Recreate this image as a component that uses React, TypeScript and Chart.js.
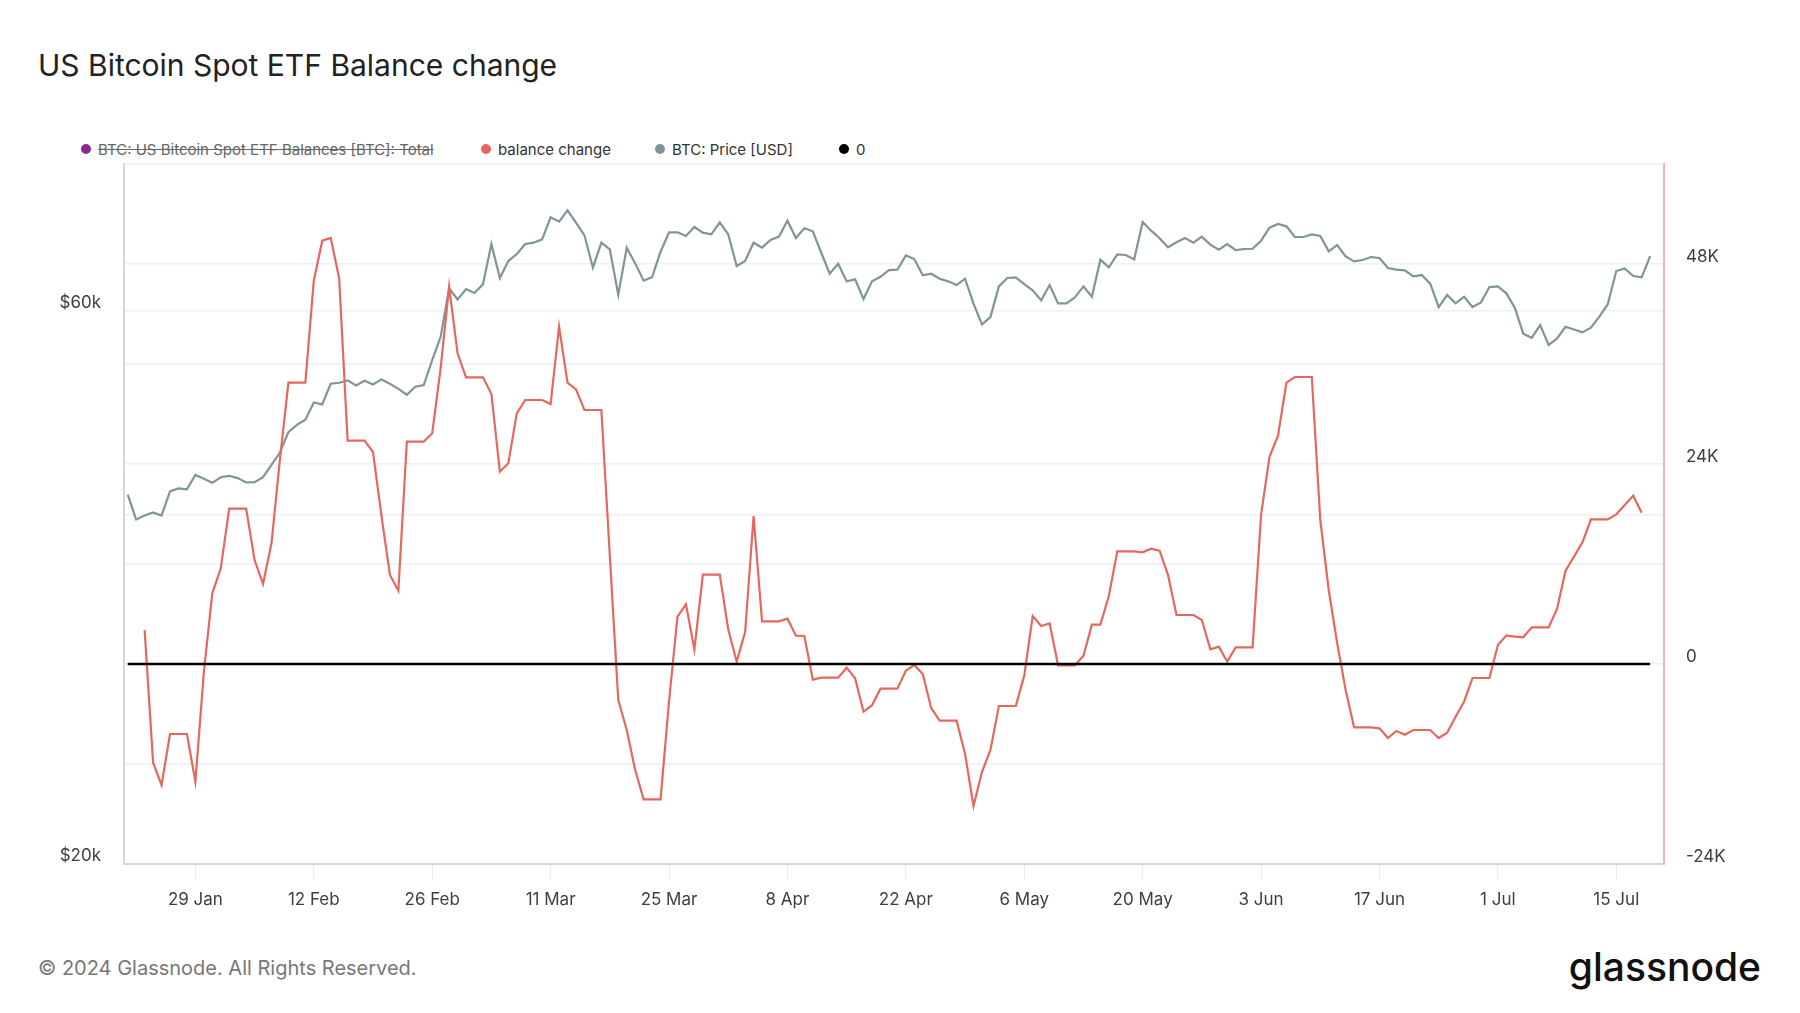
import React, { useEffect, useRef } from 'react';
import { Chart, registerables } from 'chart.js';

Chart.register(...registerables);

// ---------------- data ----------------
const TITLE = 'US Bitcoin Spot ETF Balance change';

// BTC price (USD), daily, starting 2024-01-21
const PRICE_START = '2024-01-21';
const PRICE_USD = [
  41670, 39650, 39970, 40210, 39970, 41930, 42180, 42100, 43330, 42990,
  42650, 43130, 43250, 43050, 42680, 42710, 43130, 44200, 45300, 47170,
  47860, 48340, 50040, 49840, 51930, 52030, 52280, 51760, 52240, 51860,
  52380, 51930, 51410, 50810, 51620, 51790, 54430, 57010, 62760, 61410,
  62680, 62190, 63270, 68550, 64070, 66270, 67200, 68550, 68730, 69190,
  72280, 71660, 73290, 71520, 69740, 65400, 68730, 67830, 61980, 68050,
  65960, 63730, 64190, 67510, 70160, 70160, 69650, 70910, 70110, 69880,
  71570, 69880, 65610, 66270, 68730, 68050, 69090, 69560, 71800, 69370,
  70720, 70300, 67370, 64620, 65920, 63650, 63900, 61450, 63650, 64230,
  65090, 65140, 67020, 66540, 64410, 64620, 63980, 63650, 63180, 63980,
  60880, 58430, 59290, 63010, 64070, 64150, 63300, 62520, 61290, 63180,
  60920, 60920, 61660, 63010, 61730, 66450, 65440, 67160, 67070, 66490,
  71610, 70390, 69330, 68100, 68780, 69370, 68730, 69560, 68460, 67780,
  68550, 67730, 67870, 67910, 69000, 70810, 71330, 71000, 69510, 69510,
  69880, 69650, 67560, 68410, 66890, 66220, 66400, 66800, 66660, 65360,
  65140, 65060, 64280, 64450, 63350, 60480, 61940, 60920, 61730, 60480,
  61040, 62930, 63010, 62150, 60400, 57360, 56900, 58350, 56080, 56830,
  58160, 57850, 57510, 58040, 59330, 60840, 64970, 65310, 64330, 64150,
  66930,
];

// Balance change (thousand BTC), daily, starting 2024-01-23
const BALANCE_START = '2024-01-23';
const BALANCE_CHANGE_K = [
  4.08, -11.84, -14.52, -8.4, -8.4, -8.4, -14.12, -1.0, 8.48, 11.48,
  18.64, 18.64, 18.64, 12.48, 9.6, 14.48, 24.6, 33.76, 33.76, 33.76,
  46.0, 50.8, 51.12, 46.28, 26.8, 26.8, 26.8, 25.44, 17.8, 10.68,
  8.8, 26.68, 26.68, 26.68, 27.68, 35.5, 45.28, 37.28, 34.4, 34.4,
  34.4, 32.4, 23.08, 24.08, 30.08, 31.68, 31.68, 31.68, 31.2, 40.48,
  33.76, 32.96, 30.48, 30.48, 30.48, 13.0, -4.32, -7.92, -12.72, -16.24,
  -16.24, -16.24, -4.5, 5.68, 7.16, 1.76, 10.72, 10.72, 10.72, 4.16,
  0.28, 3.84, 17.76, 5.12, 5.12, 5.12, 5.44, 3.4, 3.36, -1.88,
  -1.64, -1.64, -1.64, -0.44, -1.72, -5.72, -4.96, -2.96, -2.96, -2.96,
  -0.8, -0.12, -1.2, -5.28, -6.8, -6.8, -6.8, -10.76, -17.04, -12.96,
  -10.32, -5.04, -5.04, -5.04, -1.4, 5.76, 4.56, 4.88, -0.16, -0.16,
  -0.16, 1.0, 4.72, 4.72, 8.16, 13.52, 13.52, 13.52, 13.4, 13.84,
  13.6, 10.68, 5.88, 5.88, 5.88, 5.28, 1.76, 2.08, 0.28, 2.0,
  2.0, 2.0, 17.9, 24.88, 27.36, 33.76, 34.44, 34.44, 34.44, 17.28,
  8.88, 2.48, -3.12, -7.6, -7.6, -7.6, -7.72, -8.88, -8.04, -8.48,
  -7.92, -7.92, -7.92, -8.88, -8.24, -6.32, -4.52, -1.68, -1.68, -1.68,
  2.28, 3.44, 3.28, 3.2, 4.4, 4.4, 4.4, 6.64, 11.2, 12.88,
  14.6, 17.36, 17.36, 17.36, 17.96, 19.08, 20.2, 18.16,
];

// Zero reference line spans the price dates
const ZERO_VALUE = 0;

const X_TICK_DATES = [
  '2024-01-29', '2024-02-12', '2024-02-26', '2024-03-11', '2024-03-25',
  '2024-04-08', '2024-04-22', '2024-05-06', '2024-05-20', '2024-06-03',
  '2024-06-17', '2024-07-01', '2024-07-15',
];
const X_MIN_DATE = '2024-01-20T13:27:00Z';
const X_MAX_DATE = '2024-07-20T15:22:00Z';

const LEFT_TICKS = [20000, 40000, 60000];
const LEFT_LABELS: Record<number, string> = { 20000: '$20k', 60000: '$60k' };
const LEFT_MIN = 20000;
const LEFT_MAX = 80360;

const RIGHT_TICKS = [-24000, -12000, 0, 12000, 24000, 36000, 48000, 60000];
const RIGHT_LABELED = [-24000, 0, 24000, 48000];
const RIGHT_MIN = -24000;
const RIGHT_MAX = 60000;

const LEGEND = [
  { label: 'BTC: US Bitcoin Spot ETF Balances [BTC]: Total', color: '#8d2a8f', hidden: true },
  { label: 'balance change', color: '#e5685f', hidden: false },
  { label: 'BTC: Price [USD]', color: '#80949a', hidden: false },
  { label: '0', color: '#000000', hidden: false },
];

// ---------------- helpers ----------------
const DAY_MS = 86400000;
const BASE = Date.UTC(2024, 0, 1);
const toDay = (iso: string) =>
  (Date.parse(iso.length === 10 ? iso + 'T00:00:00Z' : iso) - BASE) / DAY_MS;
const MONTHS = ['Jan', 'Feb', 'Mar', 'Apr', 'May', 'Jun', 'Jul', 'Aug', 'Sep', 'Oct', 'Nov', 'Dec'];
const fmtDay = (v: number) => {
  const d = new Date(BASE + Math.round(v) * DAY_MS);
  return `${d.getUTCDate()} ${MONTHS[d.getUTCMonth()]}`;
};
const fmtK = (v: number) => (v === 0 ? '0' : `${v / 1000}K`);

const FONT = 'Inter, "Noto Sans", sans-serif';
const RED = '#e5685f';
const GREY = '#80949a';
const TICK_COLOR = '#3b3e44';

export default function App() {
  const canvasRef = useRef<HTMLCanvasElement | null>(null);

  useEffect(() => {
    const canvas = canvasRef.current;
    if (!canvas) return;

    const priceStart = toDay(PRICE_START);
    const balStart = toDay(BALANCE_START);
    const priceData = PRICE_USD.map((y, i) => ({ x: priceStart + i, y }));
    const balData = BALANCE_CHANGE_K.map((y, i) => ({ x: balStart + i, y: y * 1000 }));
    const zeroData = PRICE_USD.map((_, i) => ({ x: priceStart + i, y: ZERO_VALUE }));
    const xTicks = X_TICK_DATES.map(toDay);

    const chart = new Chart(canvas, {
      type: 'line',
      data: {
        datasets: [
          {
            label: '0',
            data: zeroData,
            yAxisID: 'yR',
            borderColor: '#000',
            borderWidth: 2.6,
            pointRadius: 0,
            order: 0,
          },
          {
            label: 'balance change',
            data: balData,
            yAxisID: 'yR',
            borderColor: RED,
            borderWidth: 2.2,
            pointRadius: 0,
            order: 1,
          },
          {
            label: 'BTC: Price [USD]',
            data: priceData,
            yAxisID: 'yL',
            borderColor: GREY,
            borderWidth: 2.2,
            pointRadius: 0,
            order: 2,
          },
        ],
      },
      options: {
        animation: false,
        responsive: false,
        maintainAspectRatio: false,
        layout: { padding: { top: 24, left: 0, right: 0, bottom: 0 } },
        plugins: {
          legend: { display: false },
          title: { display: false },
          tooltip: { enabled: false },
        },
        elements: { line: { tension: 0 }, point: { radius: 0 } },
        scales: {
          x: {
            type: 'linear',
            position: 'bottom',
            min: toDay(X_MIN_DATE),
            max: toDay(X_MAX_DATE),
            afterBuildTicks: (s: any) => {
              s.ticks = xTicks.map((value) => ({ value }));
            },
            afterFit: (s: any) => {
              s.height = 56;
              s.paddingLeft = 0;
              s.paddingRight = 0;
            },
            ticks: {
              callback: (v: any) => fmtDay(Number(v)),
              padding: 11,
              autoSkip: false,
              maxRotation: 0,
              color: TICK_COLOR,
              font: { family: FONT, size: 17 },
            },
            grid: {
              drawOnChartArea: false,
              drawTicks: true,
              tickLength: 15,
              color: '#ececec',
              lineWidth: 1,
            },
            border: { color: '#d6d6d6', width: 2 },
          },
          yL: {
            type: 'logarithmic',
            position: 'left',
            min: LEFT_MIN,
            max: LEFT_MAX,
            afterBuildTicks: (s: any) => {
              s.ticks = LEFT_TICKS.map((value) => ({ value }));
            },
            afterFit: (s: any) => {
              s.width = 124;
              s.paddingTop = 0;
              s.paddingBottom = 0;
            },
            ticks: {
              callback: (v: any) => LEFT_LABELS[Number(v)] ?? '',
              padding: 23,
              labelOffset: -8,
              color: TICK_COLOR,
              font: { family: FONT, size: 17 },
            },
            grid: { drawTicks: false, color: '#f0f0f0', lineWidth: 1.5 },
            border: { color: '#d3d8da', width: 2 },
          },
          yR: {
            type: 'linear',
            position: 'right',
            min: RIGHT_MIN,
            max: RIGHT_MAX,
            afterBuildTicks: (s: any) => {
              s.ticks = RIGHT_TICKS.map((value) => ({ value }));
            },
            afterFit: (s: any) => {
              s.width = 136;
              s.paddingTop = 0;
              s.paddingBottom = 0;
            },
            ticks: {
              callback: (v: any) => (RIGHT_LABELED.includes(Number(v)) ? fmtK(Number(v)) : ''),
              padding: 22,
              labelOffset: -7,
              color: TICK_COLOR,
              font: { family: FONT, size: 17 },
            },
            grid: { drawTicks: false, color: '#f0f0f0', lineWidth: 1.5 },
            border: { color: '#f4b6b0', width: 2 },
          },
        },
      },
    } as any);

    return () => chart.destroy();
  }, []);

  const legendLeft = [81, 481, 655, 839];

  return (
    <div
      style={{
        position: 'absolute',
        left: 0,
        top: 0,
        width: 1800,
        height: 1013,
        background: '#fff',
        overflow: 'hidden',
        fontFamily: FONT,
      }}
    >
      <div
        style={{
          position: 'absolute',
          left: 38,
          top: 46,
          fontSize: 30,
          lineHeight: '38px',
          color: '#222',
          whiteSpace: 'nowrap',
        }}
      >
        {TITLE}
      </div>

      {LEGEND.map((item, i) => (
        <div
          key={item.label}
          style={{
            position: 'absolute',
            left: legendLeft[i],
            top: 139,
            height: 20,
            display: 'flex',
            alignItems: 'center',
            whiteSpace: 'nowrap',
            fontSize: 15,
            color: item.hidden ? '#666' : '#333',
          }}
        >
          <span
            style={{
              display: 'inline-block',
              width: 10,
              height: 10,
              borderRadius: 5,
              background: item.color,
              marginRight: 7,
            }}
          />
          <span style={{ textDecoration: item.hidden ? 'line-through' : 'none' }}>{item.label}</span>
        </div>
      ))}

      <canvas
        ref={canvasRef}
        width={1800}
        height={780}
        style={{ position: 'absolute', left: 0, top: 140, width: 1800, height: 780 }}
      />

      <div
        style={{
          position: 'absolute',
          left: 38,
          top: 954,
          fontSize: 20,
          lineHeight: '28px',
          color: '#777',
          whiteSpace: 'nowrap',
        }}
      >
        © 2024 Glassnode. All Rights Reserved.
      </div>
      <div
        style={{
          position: 'absolute',
          right: 39,
          top: 947,
          fontSize: 39,
          lineHeight: '39px',
          fontWeight: 500,
          letterSpacing: 0,
          color: '#111',
          whiteSpace: 'nowrap',
        }}
      >
        glassnode
      </div>
    </div>
  );
}
